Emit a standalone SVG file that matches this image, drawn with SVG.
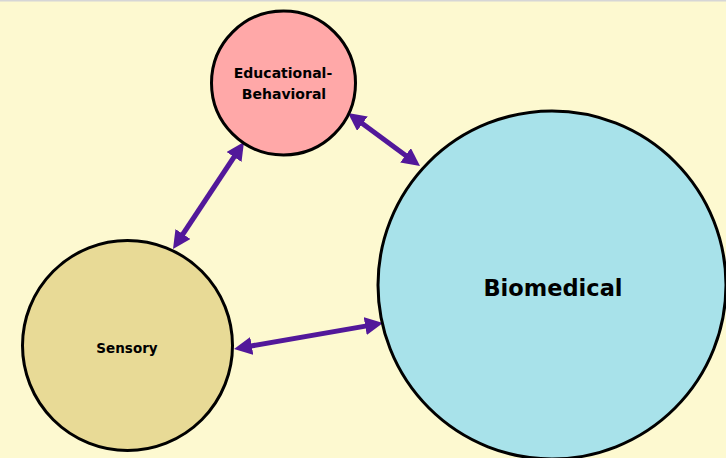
<svg xmlns="http://www.w3.org/2000/svg" width="726" height="458" viewBox="0 0 726 458">
<style>
.node{stroke:#000;stroke-width:3}
.lbl{font-family:"Comic Sans MS","DejaVu Sans",sans-serif;font-weight:bold;fill:#000;text-anchor:middle}
.conn{stroke:#52189A;stroke-width:5;fill:none;marker-start:url(#ah);marker-end:url(#ah)}
</style>
<defs>
<marker id="ah" markerUnits="userSpaceOnUse" viewBox="0 0 18 18" refX="9" refY="9" markerWidth="18" markerHeight="18" orient="auto-start-reverse">
<path d="M0,0 L18,9 L0,18 Z" fill="#52189A"/>
</marker>
</defs>
<rect width="726" height="458" fill="#FDF9D0"/>
<rect width="726" height="1.5" fill="#D6D6D6"/>
<g id="connectors">
<line class="conn" x1="355.2" y1="118.3" x2="412.8" y2="160.7"/>
<line class="conn" x1="239" y1="149.5" x2="178" y2="241.5"/>
<line class="conn" x1="242.9" y1="347.4" x2="374.1" y2="324.6"/>
</g>
<g id="educational-behavioral">
<circle class="node" cx="283.5" cy="83" r="72" fill="#FFA8A8"/>
<text class="lbl" x="283" y="78" font-size="14">Educational-</text>
<text class="lbl" x="284" y="99" font-size="14">Behavioral</text>
</g>
<g id="sensory">
<circle class="node" cx="127.5" cy="345.5" r="105" fill="#E8DA96"/>
<text class="lbl" x="127" y="353" font-size="13.5">Sensory</text>
</g>
<g id="biomedical">
<circle class="node" cx="552" cy="285" r="174" fill="#A8E2EA"/>
<text class="lbl" x="553" y="296" font-size="22.5">Biomedical</text>
</g>
</svg>
